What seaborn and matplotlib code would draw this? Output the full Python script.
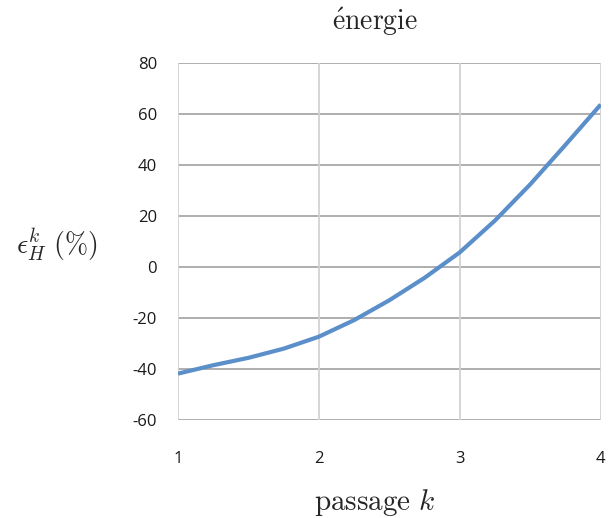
import matplotlib
matplotlib.use("Agg")
import matplotlib.pyplot as plt
import seaborn as sns
import pandas as pd

# Data
passage = [1.0, 1.25, 1.5, 1.75, 2.0, 2.25, 2.5, 2.75, 3.0, 3.25, 3.5, 3.75, 4.0]
energie = [-41.8, -38.5, -35.6, -32.0, -27.3, -20.8, -13.0, -4.2, 5.8, 18.3, 32.5, 48.0, 63.8]
x_ticks = [1, 2, 3, 4]
y_ticks = [-60, -40, -20, 0, 20, 40, 60, 80]

sns.set_style("white")
plt.rcParams["mathtext.fontset"] = "cm"
plt.rcParams["font.family"] = ["Open Sans", "DejaVu Sans"]

df = pd.DataFrame({"passage": passage, "energie": energie})

fig = plt.figure(figsize=(6.16, 5.18), dpi=100)
ax = fig.add_axes([178 / 616, 1 - 420 / 518, (600.7 - 178) / 616, (420 - 63.3) / 518])

sns.lineplot(data=df, x="passage", y="energie", ax=ax, color="#5b8fca",
             linewidth=3.0, solid_capstyle="butt", solid_joinstyle="round")

ax.set_xlim(1, 4)
ax.set_ylim(-60, 80)
ax.set_xticks(x_ticks)
ax.set_yticks(y_ticks)
ax.set_xticklabels([str(v) for v in x_ticks])
ax.set_yticklabels([str(v) for v in y_ticks])

for v in y_ticks:
    ax.axhline(v, color="#a8a8a8", linewidth=1.3, zorder=0)
for v in x_ticks:
    ax.axvline(v, color="#d2d2d2", linewidth=1.3, zorder=0)

for s in ax.spines.values():
    s.set_visible(False)

ax.tick_params(axis="y", length=5, width=1.3, color="#a8a8a8", pad=10, labelsize=12, labelcolor="#1a1a1a")
ax.tick_params(axis="x", length=0, pad=22, labelsize=12, labelcolor="#1a1a1a")
ax.set_xlabel("")
ax.set_ylabel("")

fig.text(375 / 616, 1 - 22 / 518, r"$\mathrm{\acute{e}nergie}$", ha="center", va="center", fontsize=20)
fig.text(375 / 616, 1 - 503 / 518, r"$\mathrm{passage}\ k$", ha="center", va="center", fontsize=21)
fig.text(57 / 616, 1 - 245 / 518, r"$\epsilon_H^k\ (\%)$", ha="center", va="center", fontsize=20)

fig.savefig("out.png", dpi=100)
